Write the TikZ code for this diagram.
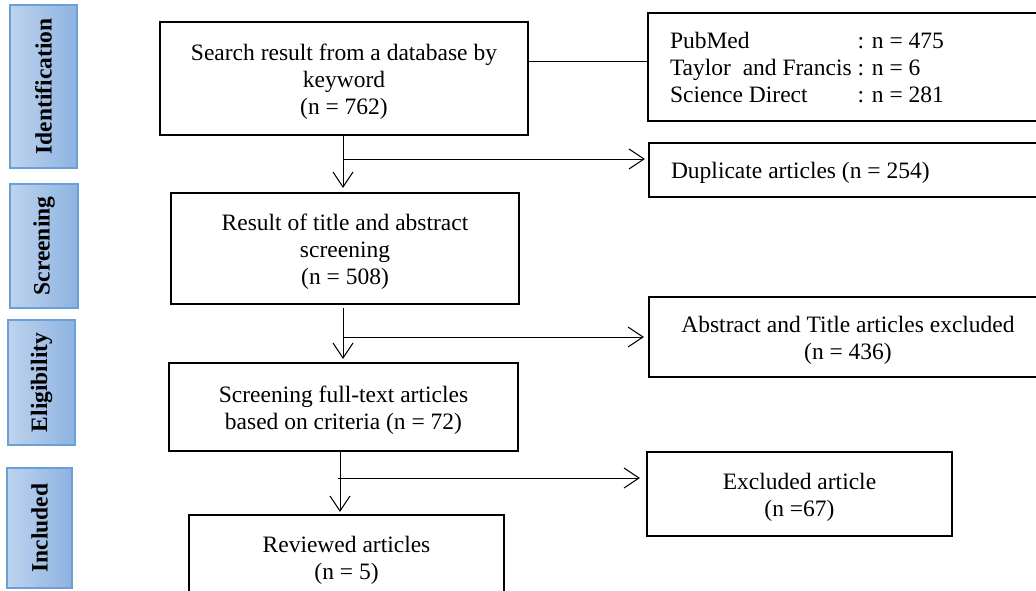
\documentclass[tikz,border=0pt]{standalone}
\usepackage{fontspec}
\setmainfont{Liberation Serif}
\usetikzlibrary{arrows.meta,calc}
\definecolor{sideL}{HTML}{BED3EE}
\definecolor{sideR}{HTML}{8DB3E0}
\definecolor{sideB}{HTML}{6A9FD8}
% lines of a box, with a little room added on top so the text sits slightly low
\newcommand\boxtextc[1]{\raisebox{0pt}[\dimexpr\height+7pt\relax][\depth]{\begin{tabular}{@{}c@{}}#1\end{tabular}}}
\newcommand\boxtextl[1]{\raisebox{0pt}[\dimexpr\height+7pt\relax][\depth]{\makebox[354pt][l]{\begin{tabular}{@{}l@{}l@{}}#1\end{tabular}}}}
\begin{document}
\begin{tikzpicture}[x=1pt,y=-1pt,
  box/.style={draw=black, line width=2.2pt, inner sep=0pt,
    font=\fontsize{23.5}{27}\selectfont},
  side/.style={draw=sideB, line width=1.3pt, left color=sideL, right color=sideR,
    inner sep=0pt, font=\fontsize{23.5}{27}\selectfont\bfseries},
  conn/.style={line width=1pt},
  arr/.style={conn, -{Straight Barb[length=15pt,width=20pt]}}]
\useasboundingbox (0,0) rectangle (1036,590);

% phase labels
\node[side, minimum width=67, minimum height=163] (ident) at (43.5,86.5) {\rotatebox{90}{Identification}};
\node[side, minimum width=68, minimum height=124] (screen) at (44,246) {\rotatebox{90}{Screening}};
\node[side, minimum width=67, minimum height=125] (elig) at (41.5,382.5) {\rotatebox{90}{Eligibility}};
\node[side, minimum width=65, minimum height=120] (incl) at (39.5,528) {\rotatebox{90}{Included}};

% main boxes
\node[box, minimum width=368, minimum height=113] (search) at (344,78.5)
  {\boxtextc{Search result from a database by\\keyword\\(n = 762)}};
\node[box, minimum width=398, minimum height=108] (db) at (847,67)
  {\boxtextl{PubMed & : n = 475\\
   Taylor\ \ and Francis\ \null & : n = 6\\
   Science Direct & : n = 281}};
\node[box, minimum width=398, minimum height=54] (dup) at (848,170)
  {\boxtextl{Duplicate articles (n = 254)}};
\node[box, minimum width=348, minimum height=111] (result) at (345,248.5)
  {\boxtextc{Result of title and abstract\\screening\\(n = 508)}};
\node[box, minimum width=398, minimum height=80] (abs) at (848,337)
  {\boxtextc{Abstract and Title articles excluded\\(n = 436)}};
\node[box, minimum width=349, minimum height=88] (full) at (343.5,407)
  {\boxtextc{Screening full-text articles\\based on criteria (n = 72)}};
\node[box, minimum width=305, minimum height=84] (excl) at (799.5,494)
  {\boxtextc{Excluded article\\(n =67)}};
\node[box, minimum width=315, minimum height=85] (rev) at (346.5,557.5)
  {\boxtextc{Reviewed articles\\(n = 5)}};

% connectors
\draw[conn] ([yshift=17.5pt]search.east) coordinate (s1) -- (s1 -| db.west);

\coordinate (j1) at (343,159);
\draw[arr, shorten >=4pt] (search.south -| j1) -- (result.north -| j1);
\draw[arr, shorten >=3pt] (j1) -- (j1 -| dup.west);

\coordinate (j2) at (343,337);
\draw[arr, shorten <=3pt, shorten >=3pt] (result.south -| j2) -- (full.north -| j2);
\draw[arr, shorten >=4pt] (j2) -- (j2 -| abs.west);

\coordinate (j3) at (340,478);
\draw[arr, shorten >=2pt] (full.south -| j3) -- (rev.north -| j3);
\draw[arr, shorten <=-2pt, shorten >=6pt] (j3) -- (j3 -| excl.west);
\end{tikzpicture}
\end{document}
